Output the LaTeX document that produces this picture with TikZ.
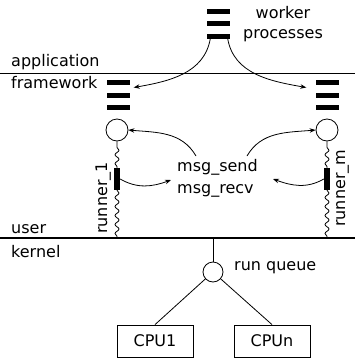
\documentclass[tikz,border=0pt]{standalone}
\usepackage{fontspec}
\setmainfont{DejaVu Sans}
\usetikzlibrary{arrows.meta,decorations.pathmorphing}

\begin{document}
\begin{tikzpicture}[
    x=1pt,y=1pt,
    font=\fontsize{16}{20}\selectfont,
    label/.style={inner sep=0pt,anchor=base west},
    bar/.style={fill=black,inner sep=0pt,minimum width=23pt,minimum height=5pt},
    slot/.style={fill=black,inner sep=0pt,minimum width=6pt,minimum height=22pt},
    queue/.style={draw,circle,inner sep=0pt,minimum size=22pt,line width=0.8pt},
    cpu/.style={draw,inner sep=0pt,minimum width=76pt,minimum height=32pt,line width=0.8pt},
    link/.style={-{Stealth[length=6pt,width=4.5pt]},line width=0.8pt},
    wave/.style={
        decorate,decoration={snake,pre length=0pt,post length=0pt,amplitude=2pt,
        segment length=9pt},line width=0.8pt},
    ]
    \useasboundingbox (0,0) rectangle (355,-360);

    % Layer borders
    \draw[line width=0.8pt] (0,-73) -- (355,-73);
    \draw[line width=1.8pt] (0,-238) -- (355,-238);

    % Layer names
    \node[label] (app) at (11,-66) {application};
    \node[label] (fw) at (11,-88) {framework};
    \node[label] (usr) at (11,-233) {user};
    \node[label] (krn) at (11,-257) {kernel};

    % Process stacks
    \foreach \i/\y in {1/11,2/23.5,3/36}{
        \node[bar] (w\i) at (219,-\y) {};
        \node[bar] (fl\i) at (119,-\y-71.5) {};
        \node[bar] (fr\i) at (328,-\y-71.5) {};
    }
    \node[inner sep=0pt,anchor=base] (wk) at (283,-18) {worker};
    \node[inner sep=0pt,anchor=base] (pr) at (283,-38) {processes};

    % Workers handed to the framework
    \draw[link] ([xshift=3pt]w3.south west) to[out=-100,in=10] ([shift={(3pt,-5pt)}]fl1.east);
    \draw[link] ([xshift=-3pt]w3.south east) to[out=-80,in=170] ([shift={(-10pt,-5pt)}]fr1.west);

    % Runners
    \node[queue] (c1) at (117,-130) {};
    \node[queue] (c2) at (327,-130) {};
    \node[slot] (r1) at (117,-179) {};
    \node[slot] (r2) at (327,-179) {};
    \coordinate (k1) at (117,-238);
    \coordinate (k2) at (327,-238);
    \draw[wave,decoration={pre length=6pt}] (c1.south) -- (r1.north);
    \draw[wave] (r1.south) -- (k1);
    \draw[wave,decoration={pre length=6pt}] (c2.south) -- (r2.north);
    \draw[wave] (r2.south) -- (k2);
    \node[label,rotate=90] (rn1) at (107,-234) {runner\_1};
    \node[label,rotate=90] (rnm) at (345,-227) {runner\_m};

    % Messages
    \node[label] (ms) at (177,-171) {msg\_send};
    \node[label] (mr) at (177,-193) {msg\_recv};
    \coordinate (s1) at (196,-156);
    \coordinate (s2) at (247,-156);
    \coordinate (t1) at (171,-180);
    \coordinate (t2) at (273,-179);
    \draw[link] (s1) to[out=120,in=-5] (c1.east);
    \draw[link] (s2) to[out=60,in=185] (c2.west);
    \draw[link] (r1.east) to[out=-30,in=200] (t1);
    \draw[link] (r2.west) to[out=210,in=-20] (t2);

    % Run queue and CPUs
    \coordinate (k0) at (213,-238);
    \node[queue,minimum size=20pt] (rq) at (213,-272) {};
    \node[label] (rql) at (234,-270) {run queue};
    \node[cpu] (cpu1) at (155,-341) {CPU1};
    \node[cpu] (cpun) at (272,-341) {CPUn};
    \draw[line width=0.8pt] (k0) -- (rq);
    \draw[line width=0.8pt] (rq) -- (cpu1.north);
    \draw[line width=0.8pt] (rq) -- (cpun.north);
\end{tikzpicture}
\end{document}
